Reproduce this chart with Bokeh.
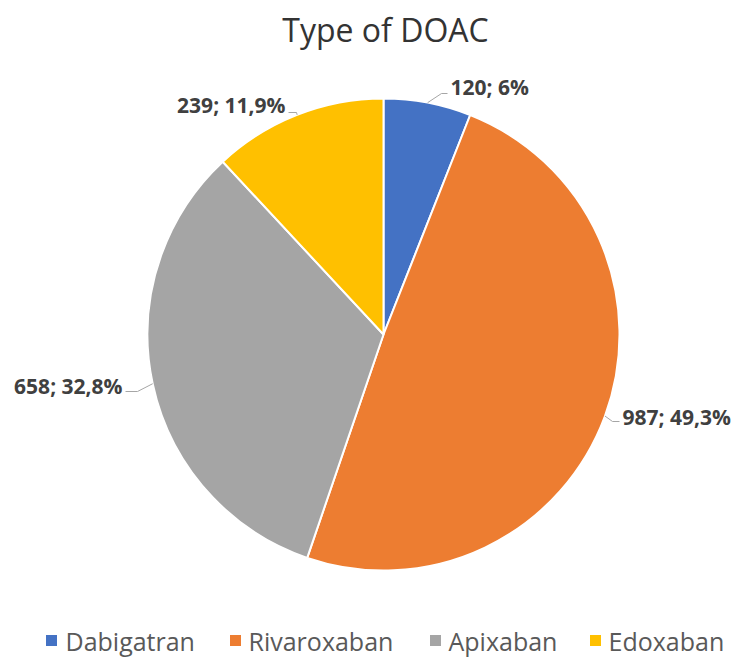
import numpy as np
from bokeh.plotting import figure
from bokeh.models import Range1d, ColumnDataSource
from bokeh.core.properties import value
from bokeh.embed import file_html
from bokeh.resources import INLINE

# ---- data ----
chart_title = "Type of DOAC"
categories = ["Dabigatran", "Rivaroxaban", "Apixaban", "Edoxaban"]
counts = [120, 987, 658, 239]
percent_labels = ["6%", "49,3%", "32,8%", "11,9%"]
colors = ["#4472C4", "#ED7D31", "#A5A5A5", "#FFC000"]

# ---- layout (screen pixel helpers) ----
W, H = 738, 662
def fx(x):
    return x
def fy(y):
    return H - y

FONT = "Open Sans"
cx, cy, R = fx(383), fy(334), 236

# label anchor positions / alignment (screen coords) and leader elbows
label_pos = [(450, 86, "left"), (622, 416, "left"), (122, 385, "right"), (285, 104, "right")]
leader_elbow = [((441, 93), (447, 93)), ((612, 421), (619, 421)),
                ((137, 391), (125, 391)), ((296, 112), (288, 112))]
legend_square_x = [51, 235, 435, 595]
legend_text_x = [65, 248, 448, 608]
legend_y = 640

p = figure(width=W, height=H, x_range=Range1d(0, W), y_range=Range1d(0, H),
           output_backend="svg", toolbar_location=None,
           x_axis_location=None, y_axis_location=None, min_border=0,
           outline_line_color=None, background_fill_color="white",
           border_fill_color="white")
p.grid.visible = False

# ---- pie ----
vals = np.array(counts, dtype=float)
frac = vals / vals.sum()
cum = np.cumsum(frac)
start = np.pi / 2 - 2 * np.pi * (cum - frac)
end = np.pi / 2 - 2 * np.pi * cum
mid = (start + end) / 2

src = ColumnDataSource(dict(start=start, end=end, color=colors, cat=categories))
p.wedge(x=cx, y=cy, radius=R, start_angle="start", end_angle="end",
        direction="clock", fill_color="color", line_color="white",
        line_width=2, source=src)

# ---- leader lines and data labels ----
for i in range(len(counts)):
    ex = cx + R * np.cos(mid[i])
    ey = cy + R * np.sin(mid[i])
    (bx, by), (tx, ty) = leader_elbow[i]
    p.line([ex, fx(bx), fx(tx)], [ey, fy(by), fy(ty)],
           line_color="#A6A6A6", line_width=1)
    lx, ly, al = label_pos[i]
    p.text(x=[fx(lx)], y=[fy(ly)], text=[f"{counts[i]}; {percent_labels[i]}"],
           text_font=value(FONT), text_font_style="bold",
           text_font_size="21px", text_color="#404040",
           text_align=al, text_baseline="middle")

# ---- title ----
p.text(x=[fx(385)], y=[fy(29)], text=[chart_title], text_font=value(FONT),
       text_font_size="32px", text_color="#333333",
       text_align="center", text_baseline="middle")

# ---- legend ----
p.scatter(x=[fx(v) for v in legend_square_x], y=[fy(legend_y)] * 4,
          marker="square", size=11, fill_color=colors, line_color=None)
p.text(x=[fx(v) for v in legend_text_x], y=[fy(legend_y)] * 4, text=categories,
       text_font=value(FONT), text_font_size="25px", text_color="#595959",
       text_align="left", text_baseline="middle")

open("out.html", "w").write(file_html(p, INLINE))
